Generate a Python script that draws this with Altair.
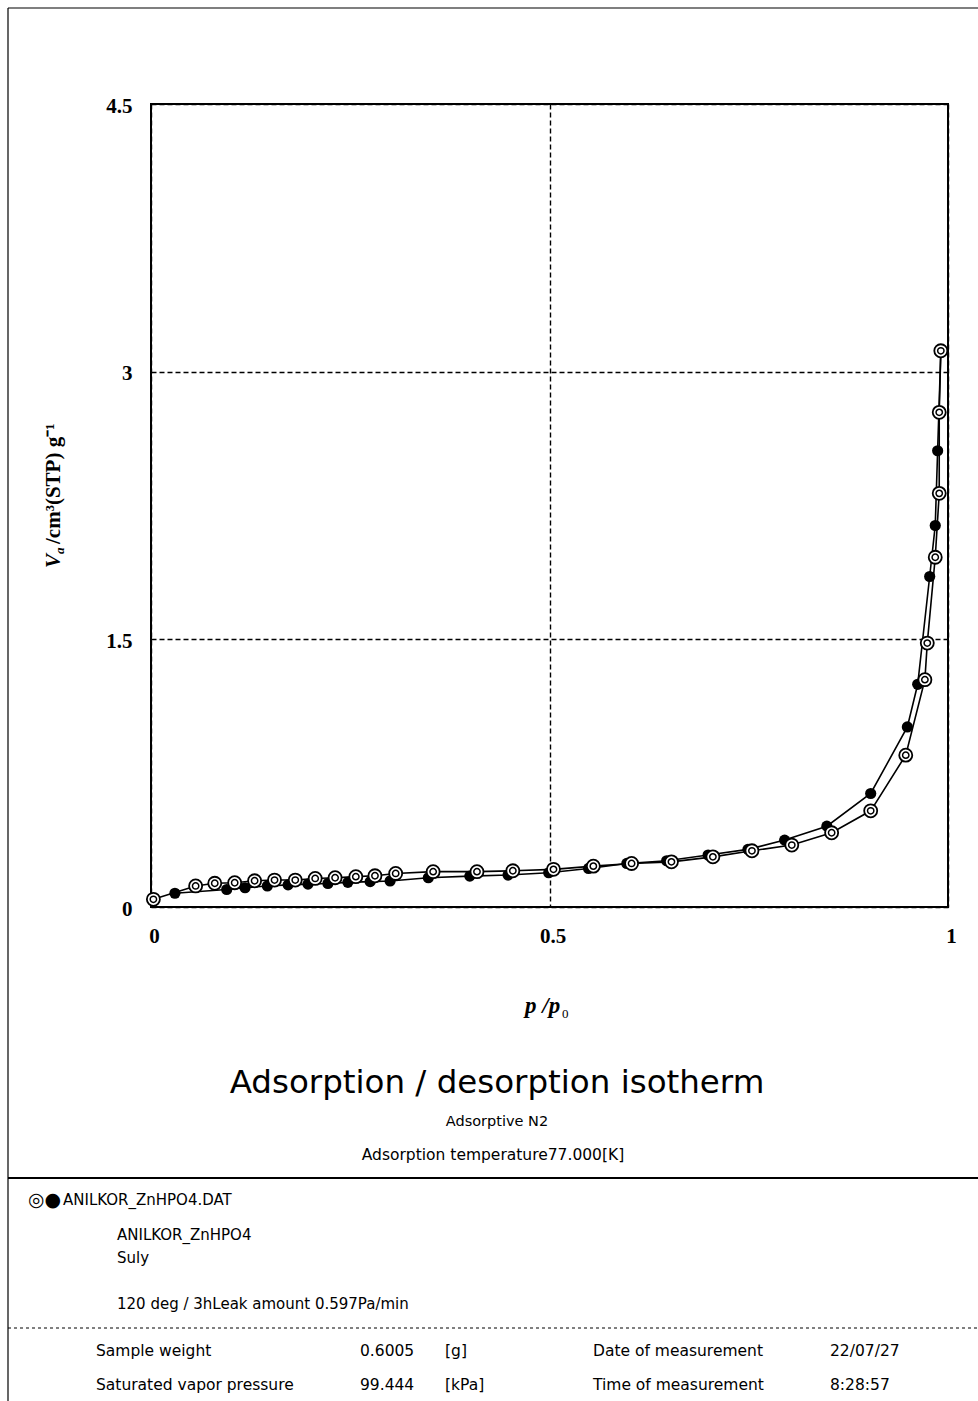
import altair as alt
import pandas as pd

# Adsorption branch (filled markers): relative pressure p/p0 and adsorbed volume
ads_p = [0.030, 0.095, 0.118, 0.146, 0.172, 0.197, 0.222, 0.247, 0.275, 0.300,
         0.348, 0.400, 0.448, 0.499, 0.549, 0.597, 0.647, 0.699, 0.749, 0.795,
         0.848, 0.903, 0.949, 0.962, 0.977, 0.984, 0.987, 0.991]
ads_v = [0.077, 0.098, 0.108, 0.118, 0.124, 0.128, 0.132, 0.138, 0.142, 0.146,
         0.164, 0.173, 0.179, 0.192, 0.216, 0.244, 0.259, 0.291, 0.323, 0.375,
         0.453, 0.636, 1.009, 1.248, 1.852, 2.138, 2.557, 3.117]

# Desorption branch (double-circle markers)
des_p = [0.991, 0.989, 0.989, 0.984, 0.974, 0.971, 0.947, 0.903, 0.854, 0.804,
         0.754, 0.705, 0.653, 0.603, 0.555, 0.505, 0.454, 0.409, 0.354, 0.307,
         0.281, 0.257, 0.231, 0.206, 0.181, 0.155, 0.130, 0.105, 0.080, 0.056,
         0.003]
des_v = [3.117, 2.772, 2.318, 1.960, 1.479, 1.274, 0.851, 0.539, 0.416, 0.347,
         0.315, 0.281, 0.253, 0.244, 0.229, 0.211, 0.203, 0.198, 0.198, 0.188,
         0.175, 0.170, 0.164, 0.160, 0.151, 0.151, 0.147, 0.136, 0.133, 0.118,
         0.043]

x_ticks = [0, 0.5, 1]
y_ticks = [0, 1.5, 3, 4.5]

title_text = "Adsorption / desorption isotherm"
subtitle_lines = ["Adsorptive N2", "Adsorption temperature77.000[K]"]
legend_symbols = "◎●"
legend_text = "ANILKOR_ZnHPO4.DAT"
sample_lines = ["ANILKOR_ZnHPO4", "Suly", "120 deg / 3hLeak amount 0.597Pa/min"]
info_labels = ["Sample weight", "Saturated vapor pressure"]
info_values = ["0.6005", "99.444"]
info_units = ["[g]", "[kPa]"]
meta_labels = ["Date of measurement", "Time of measurement"]
meta_values = ["22/07/27", "8:28:57"]

SANS = "DejaVu Sans"
SERIF = "Liberation Serif"

# page geometry: plot area sits at (LEFT, TOP) with size W x H
LEFT, TOP, W, H = 151, 104, 797, 803
PAGE_W, PAGE_H = 978, 1401

ads = pd.DataFrame({"p": ads_p, "v": ads_v, "i": range(len(ads_p))})
des = pd.DataFrame({"p": des_p, "v": des_v, "i": range(len(des_p))})

X = alt.X("p:Q", scale=alt.Scale(domain=[0, 1], nice=False, zero=False),
          axis=alt.Axis(values=x_ticks, title=None, labelExpr="datum.value",
                        labelPadding=18, labelOffset=3, labelFlush=False))
Y = alt.Y("v:Q", scale=alt.Scale(domain=[0, 4.5], nice=False, zero=False),
          axis=alt.Axis(values=y_ticks, title=None, labelExpr="datum.value",
                        labelPadding=19, labelOffset=2, labelFlush=False))

ads_line = alt.Chart(ads).mark_line(color="black", strokeWidth=1.6).encode(
    x=X, y=Y, order=alt.Order("i:Q"))
des_line = alt.Chart(des).mark_line(color="black", strokeWidth=1.6).encode(
    x=X, y=Y, order=alt.Order("i:Q"))
ads_pts = alt.Chart(ads[ads["i"] < len(ads_p) - 1]).mark_point(
    shape="circle", filled=True, color="black", size=125, opacity=1).encode(x=X, y=Y)
des_outer = alt.Chart(des).mark_point(
    shape="circle", filled=True, fill="white", stroke="black", strokeWidth=1.8,
    size=170, opacity=1).encode(x=X, y=Y)
des_inner = alt.Chart(des).mark_point(
    shape="circle", filled=False, stroke="black", strokeWidth=1.5,
    size=40, opacity=1).encode(x=X, y=Y)

one = alt.Data(values=[{"k": 0}])


def label(text, x, y, size=15.5, align="left", font=SANS, style="normal",
          angle=0, weight="normal", baseline="alphabetic"):
    return alt.Chart(one).mark_text(
        text=text, align=align, baseline=baseline, font=font, fontSize=size,
        fontStyle=style, fontWeight=weight, angle=angle, color="black",
    ).encode(x=alt.value(x - LEFT), y=alt.value(y - TOP))


def hline(y, x0, x1, width=1.0, dash=None):
    kw = {"strokeDash": dash} if dash else {}
    return alt.Chart(one).mark_rule(color="black", strokeWidth=width, **kw).encode(
        x=alt.value(x0 - LEFT), x2=alt.value(x1 - LEFT), y=alt.value(y - TOP))


def vline(x, y0, y1, width=1.0):
    return alt.Chart(one).mark_rule(color="black", strokeWidth=width).encode(
        x=alt.value(x - LEFT), y=alt.value(y0 - TOP), y2=alt.value(y1 - TOP))


# page frame and separators
frame = [
    hline(8, 8, PAGE_W + 2, 1.2),
    vline(8, 8, PAGE_H + 2, 1.2),
    hline(1178, 8, PAGE_W + 2, 1.8),
    hline(1328, 8, PAGE_W + 2, 1.0, [3, 3]),
]

# axis titles (serif, with sub/superscripts)
axis_titles = [
    label("V", 60, 568, size=21, font=SERIF, style="italic", weight="bold", angle=270),
    label("a", 64, 554, size=13, font=SERIF, style="italic", weight="bold", angle=270),
    label(" /cm³(STP) g⁻¹", 60, 544, size=21, font=SERIF, weight="bold", angle=270),
    label("p /p", 525, 1013, size=23, font=SERIF, style="italic", weight="bold"),
    label("0", 562, 1018, size=13, font=SERIF),
]

texts = [
    label(title_text, 497, 1093, size=32.5, align="center"),
    label(subtitle_lines[0], 497, 1126, size=14.5, align="center"),
    label(subtitle_lines[1], 493, 1160, size=15.5, align="center"),
    label(legend_symbols, 28, 1206, size=19),
    label(legend_text, 63, 1205, size=15),
    label(sample_lines[0], 117, 1240, size=15),
    label(sample_lines[1], 117, 1263, size=15),
    label(sample_lines[2], 117, 1309, size=15),
]
for row, yb in enumerate([1356, 1390]):
    texts += [
        label(info_labels[row], 96, yb, size=15.5),
        label(info_values[row], 360, yb, size=15.5),
        label(info_units[row], 445, yb, size=15.5),
        label(meta_labels[row], 593, yb, size=15.5),
        label(meta_values[row], 830, yb, size=15.5),
    ]

chart = alt.layer(
    ads_line, des_line, ads_pts, des_outer, des_inner,
    *frame, *axis_titles, *texts,
).properties(
    width=W, height=H,
    autosize=alt.AutoSizeParams(type="none"),
    padding={"left": LEFT, "top": TOP, "right": PAGE_W - LEFT - W,
             "bottom": PAGE_H - TOP - H},
    background="white",
).configure_view(
    stroke="black", strokeWidth=2,
).configure_axis(
    domain=False, ticks=False, grid=True, gridColor="black",
    gridDash=[5, 3], gridWidth=1.4, gridOpacity=1,
    labelFont=SERIF, labelFontSize=21, labelFontWeight="bold", labelColor="black",
)

chart.save("out.html", embed_options={"renderer": "svg", "actions": False})
